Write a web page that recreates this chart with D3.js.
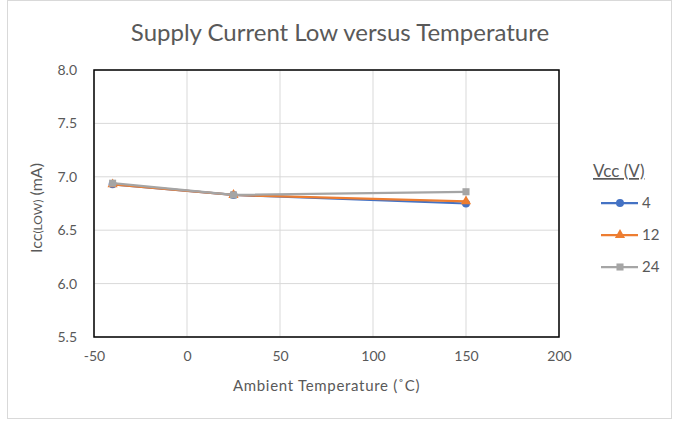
<!DOCTYPE html>
<html>
<head>
<meta charset="utf-8">
<script src="https://cdn.jsdelivr.net/npm/d3@7"></script>
<style>
  body { margin: 0; background: #fff; }
  text { font-family: Lato, "Open Sans", sans-serif; fill: #595959; }
</style>
</head>
<body>
<script>
// temperatures in degC
var temps = [-40, 25, 150];
// supply current low (mA) for each Vcc
var vcc4 = [6.93, 6.83, 6.75];
var vcc12 = [6.93, 6.83, 6.77];
var vcc24 = [6.94, 6.83, 6.86];
var seriesNames = ["4", "12", "24"];
var xTicks = [-50, 0, 50, 100, 150, 200];
var yTicks = [5.5, 6.0, 6.5, 7.0, 7.5, 8.0];

var width = 673, height = 421;
var margin = {top: 70, right: 114, bottom: 84, left: 94};

var svg = d3.select("body").append("svg")
    .attr("width", width)
    .attr("height", height);

// outer chart frame
svg.append("rect")
    .attr("x", 7.5).attr("y", 0.5)
    .attr("width", 664).attr("height", 418)
    .attr("fill", "#fff")
    .attr("stroke", "#d9d9d9");

var x = d3.scaleLinear().domain([-50, 200]).range([margin.left, width - margin.right]);
var y = d3.scaleLinear().domain([5.5, 8.0]).range([height - margin.bottom, margin.top]);

// gridlines
svg.append("g").selectAll("line.v")
    .data(xTicks).enter().append("line")
    .attr("x1", d => x(d)).attr("x2", d => x(d))
    .attr("y1", y(5.5)).attr("y2", y(8.0))
    .attr("stroke", "#d9d9d9").attr("stroke-width", 1);
svg.append("g").selectAll("line.h")
    .data(yTicks).enter().append("line")
    .attr("x1", x(-50)).attr("x2", x(200))
    .attr("y1", d => y(d)).attr("y2", d => y(d))
    .attr("stroke", "#d9d9d9").attr("stroke-width", 1);

// axes (labels only, the box is drawn below)
var xAxis = svg.append("g")
    .attr("transform", "translate(0," + y(5.5) + ")")
    .call(d3.axisBottom(x).tickValues(xTicks).tickSize(0).tickPadding(14)
      .tickFormat(function(d) { return String(d); }));
var yAxis = svg.append("g")
    .attr("transform", "translate(" + x(-50) + ",0)")
    .call(d3.axisLeft(y).tickValues(yTicks).tickSize(0).tickPadding(17).tickFormat(d3.format(".1f")));
[xAxis, yAxis].forEach(function(a) {
  a.select(".domain").remove();
  a.selectAll("text").style("font-size", "14px").style("fill", "#595959")
    .style("font-family", "Lato, 'Open Sans', sans-serif");
});

// plot border
svg.append("rect")
    .attr("x", x(-50)).attr("y", y(8.0))
    .attr("width", x(200) - x(-50)).attr("height", y(5.5) - y(8.0))
    .attr("fill", "none").attr("stroke", "#000").attr("stroke-width", 1.5);

// series
var series = [
  {name: seriesNames[0], values: vcc4, color: "#4472C4", marker: d3.symbolCircle, size: 50},
  {name: seriesNames[1], values: vcc12, color: "#ED7D31", marker: d3.symbolTriangle, size: 45},
  {name: seriesNames[2], values: vcc24, color: "#A5A5A5", marker: d3.symbolSquare, size: 50}
];

var line = d3.line()
    .x(function(d, i) { return x(temps[i]); })
    .y(function(d) { return y(d); });

series.forEach(function(s) {
  svg.append("path")
      .datum(s.values)
      .attr("d", line)
      .attr("fill", "none")
      .attr("stroke", s.color)
      .attr("stroke-width", 2.25);
  svg.append("g").selectAll("path")
      .data(s.values).enter().append("path")
      .attr("d", d3.symbol().type(s.marker).size(s.size))
      .attr("transform", function(d, i) { return "translate(" + x(temps[i]) + "," + y(d) + ")"; })
      .attr("fill", s.color);
});

// title
svg.append("text")
    .attr("x", 340).attr("y", 41)
    .attr("text-anchor", "middle")
    .style("font-size", "24px")
    .text("Supply Current Low versus Temperature");

// x axis title
svg.append("text")
    .attr("x", x(75)).attr("y", 391)
    .attr("text-anchor", "middle")
    .style("font-size", "15px")
    .style("letter-spacing", "0.7px")
    .text("Ambient Temperature (˚C)");

// y axis title
var yt = svg.append("text")
    .attr("transform", "translate(42,208) rotate(-90)")
    .attr("text-anchor", "middle")
    .style("font-size", "16px");
yt.append("tspan").text("Icc");
yt.append("tspan").style("font-size", "12px").text("(LOW)");
yt.append("tspan").text(" (mA)");

// legend
var lg = svg.append("g");
lg.append("text")
    .attr("x", 593).attr("y", 177)
    .style("font-size", "17px")
    .style("text-decoration", "underline")
    .text("Vcc (V)");
series.forEach(function(s, i) {
  var ly = 203 + i * 32;
  lg.append("line")
      .attr("x1", 601).attr("x2", 638)
      .attr("y1", ly).attr("y2", ly)
      .attr("stroke", s.color).attr("stroke-width", 2.25);
  lg.append("path")
      .attr("d", d3.symbol().type(s.marker).size(s.size))
      .attr("transform", "translate(620," + ly + ")")
      .attr("fill", s.color);
  lg.append("text")
      .attr("x", 642).attr("y", ly + 5)
      .style("font-size", "15px")
      .text(s.name);
});
</script>
</body>
</html>
